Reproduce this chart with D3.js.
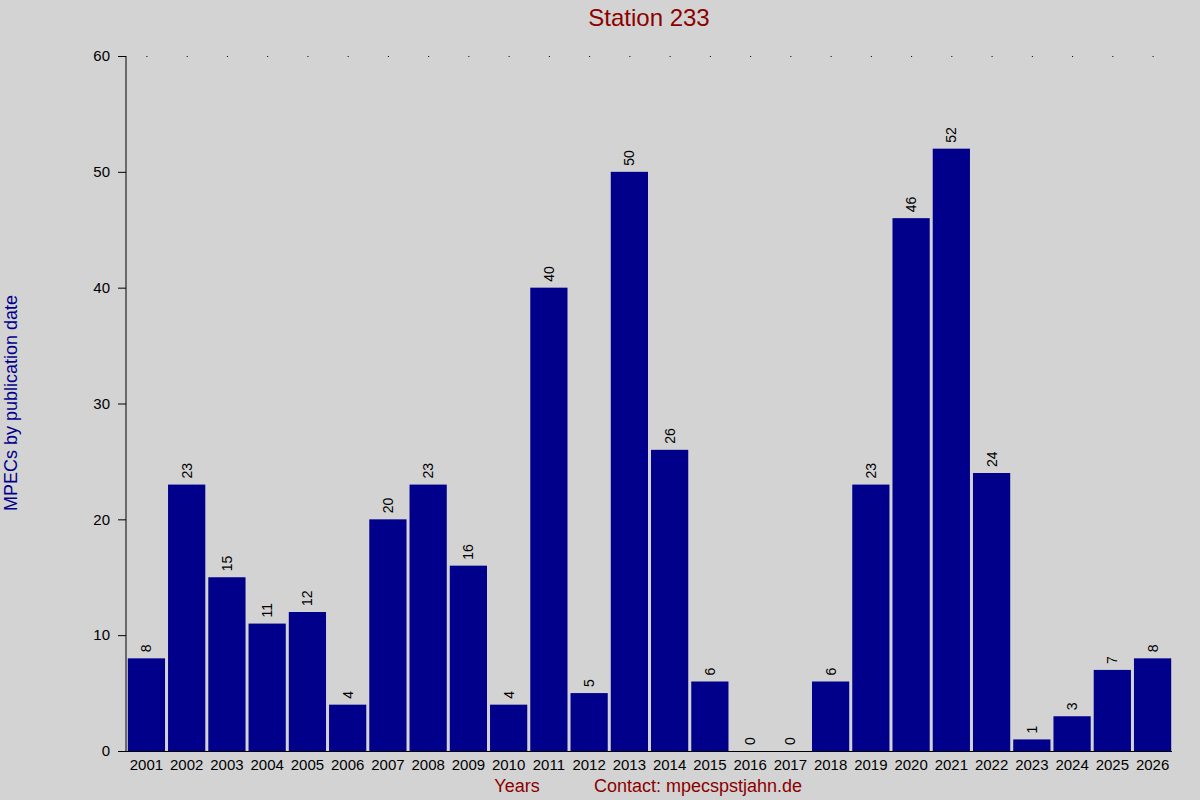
<!DOCTYPE html>
<html><head><meta charset="utf-8">
<script src="https://cdn.jsdelivr.net/npm/d3@7"></script>
<style>body{margin:0;background:#d3d3d3}</style>
</head><body>
<svg id="c" width="1200" height="800"></svg>
<script>
var years = ['2001','2002','2003','2004','2005','2006','2007','2008','2009','2010','2011','2012','2013',
  '2014','2015','2016','2017','2018','2019','2020','2021','2022','2023','2024','2025','2026'];
var counts = [8,23,15,11,12,4,20,23,16,4,40,5,50,26,6,0,0,6,23,46,52,24,1,3,7,8];
var yTicks = [0,10,20,30,40,50,60];

var svg = d3.select('#c');
var font = 'Liberation Sans, Arial, sans-serif';
svg.append('rect').attr('width', 1200).attr('height', 800).attr('fill', '#d3d3d3');

var x = d3.scaleBand().domain(years).range([127, 1172]).paddingInner(0.075).paddingOuter(0.02);
var y = d3.scaleLinear().domain([0, 60]).range([751, 56]);

svg.append('g').selectAll('rect').data(counts).join('rect')
    .attr('x', function(d, i) { return x(years[i]); })
    .attr('width', x.bandwidth())
    .attr('y', function(d) { return y(d); })
    .attr('height', function(d) { return 751 - y(d); })
    .attr('fill', '#00008b');

// dots at top
svg.append('g').selectAll('rect').data(years).join('rect')
    .attr('x', function(d) { return x(d) + x.bandwidth() / 2; })
    .attr('y', 56).attr('width', 1).attr('height', 1).attr('fill', '#000');

svg.append('g').selectAll('text').data(counts).join('text')
    .attr('transform', function(d, i) {
        return 'translate(' + (x(years[i]) + x.bandwidth() / 2 + 5) + ',' + (y(d) - 6) + ') rotate(-90)';
    })
    .attr('font-family', font).attr('font-size', 14).attr('fill', '#000')
    .text(function(d) { return d; });

var yAxis = svg.append('g').attr('transform', 'translate(126,0)')
    .call(d3.axisLeft(y).tickValues(yTicks).tickSize(8).tickPadding(8));
yAxis.select('.domain').attr('d', 'M0,56V751');
yAxis.selectAll('text').attr('font-family', font).attr('font-size', 15).attr('fill', '#000');

svg.append('line').attr('x1', 118).attr('x2', 1172).attr('y1', 751.5).attr('y2', 751.5).attr('stroke', '#000');

svg.append('g').selectAll('text').data(years).join('text')
    .attr('x', function(d) { return x(d) + x.bandwidth() / 2; })
    .attr('y', 770).attr('text-anchor', 'middle')
    .attr('font-family', font).attr('font-size', 15).attr('fill', '#000')
    .text(function(d) { return d; });

svg.append('text').attr('x', 649).attr('y', 26).attr('text-anchor', 'middle')
    .attr('font-family', font).attr('font-size', 24).attr('fill', '#8b0000').text('Station 233');
svg.append('text').attr('x', 517).attr('y', 792).attr('text-anchor', 'middle')
    .attr('font-family', font).attr('font-size', 18).attr('fill', '#8b0000').text('Years');
svg.append('text').attr('x', 698).attr('y', 792).attr('text-anchor', 'middle')
    .attr('font-family', font).attr('font-size', 18).attr('fill', '#8b0000').text('Contact: mpecspstjahn.de');
svg.append('text').attr('transform', 'translate(17,403) rotate(-90)').attr('text-anchor', 'middle')
    .attr('font-family', font).attr('font-size', 18).attr('fill', '#00008b').text('MPECs by publication date');
</script>
</body></html>
